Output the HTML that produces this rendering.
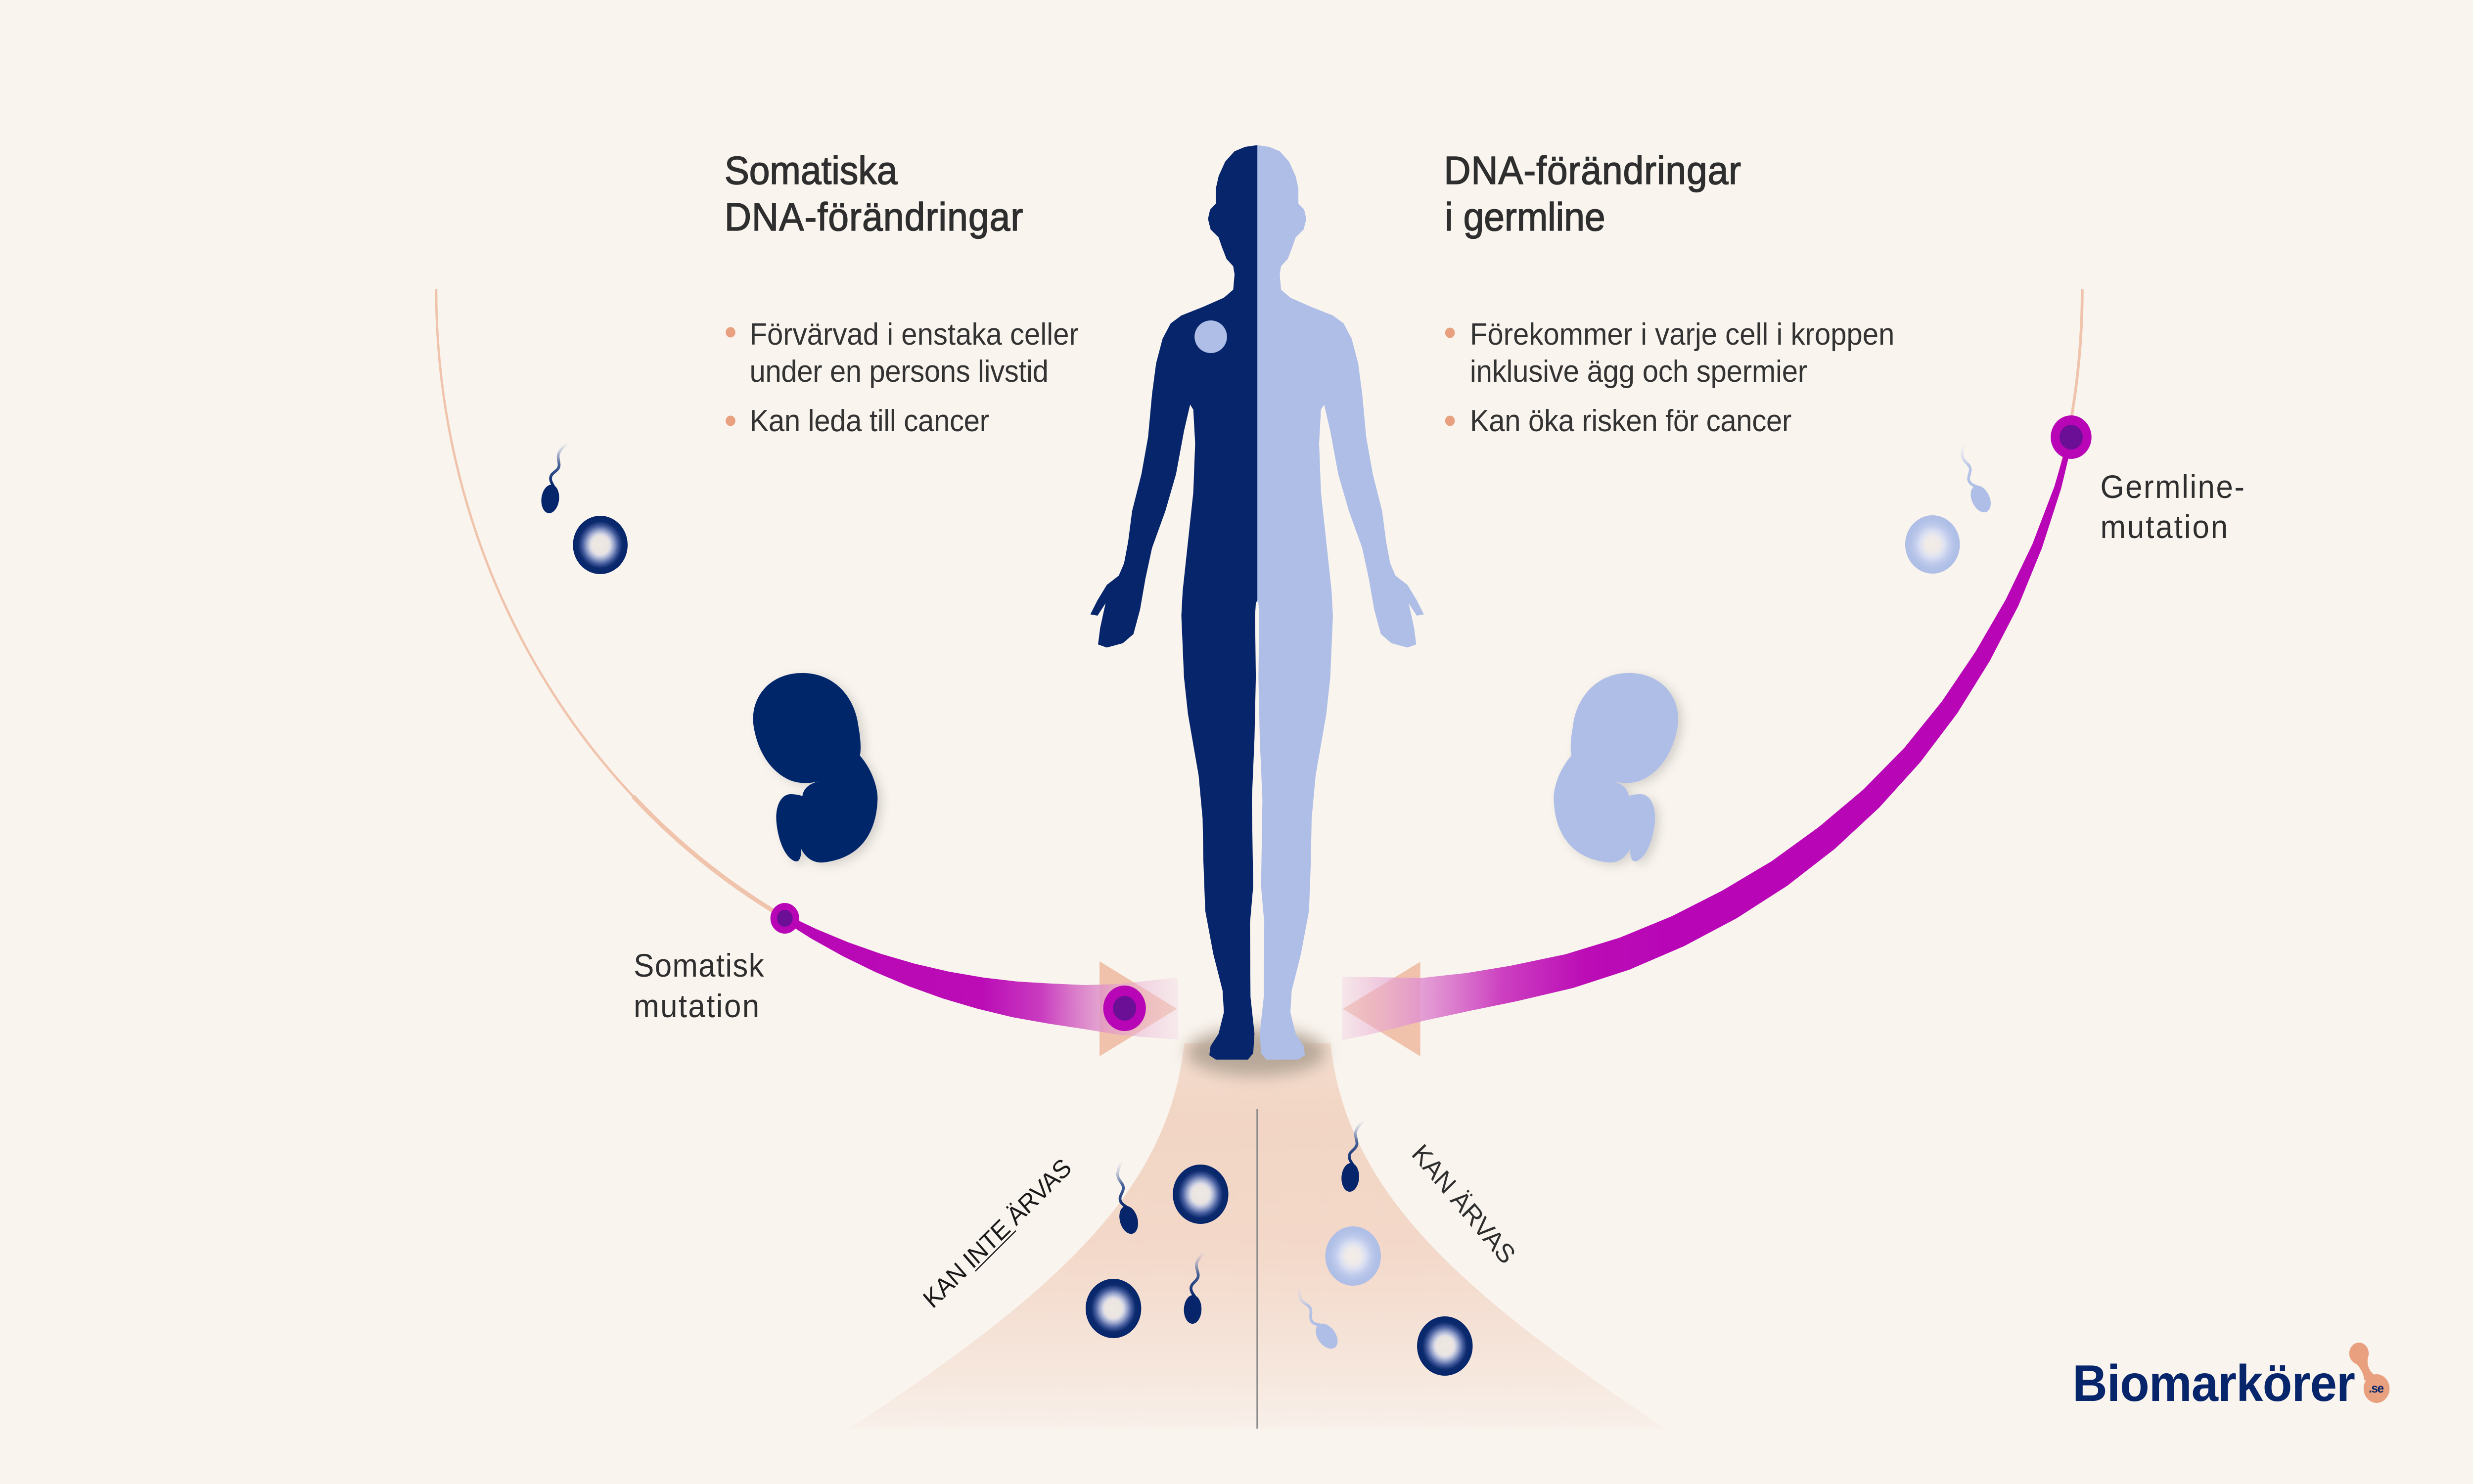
<!DOCTYPE html>
<html><head><meta charset="utf-8">
<style>
html,body{margin:0;padding:0;background:#f9f4ee;width:100%;height:100%;overflow:hidden;}
svg{display:block;position:fixed;left:0;top:0;width:100vw;height:100vh;}
text{font-family:"Liberation Sans",Arial,sans-serif;}
</style></head>
<body>
<svg viewBox="0 0 5335 3001" preserveAspectRatio="none" xmlns="http://www.w3.org/2000/svg">
<defs>
  <radialGradient id="eggN" cx="0.5" cy="0.5" r="0.5">
    <stop offset="0" stop-color="#efe9e4"/>
    <stop offset="0.3" stop-color="#ebe5e1"/>
    <stop offset="0.37" stop-color="#d9dae6"/>
    <stop offset="0.5" stop-color="#98a4cb"/>
    <stop offset="0.65" stop-color="#465d9e"/>
    <stop offset="0.8" stop-color="#0c2b6e"/>
    <stop offset="1" stop-color="#06256a"/>
  </radialGradient>
  <radialGradient id="eggL" cx="0.5" cy="0.5" r="0.5">
    <stop offset="0" stop-color="#f4ede8"/>
    <stop offset="0.28" stop-color="#efeae9"/>
    <stop offset="0.45" stop-color="#dbe0f2"/>
    <stop offset="0.65" stop-color="#c0cbec"/>
    <stop offset="0.85" stop-color="#b0c0e7"/>
    <stop offset="1" stop-color="#aebee6"/>
  </radialGradient>
  <linearGradient id="funnelG" x1="0" y1="2110" x2="0" y2="2892" gradientUnits="userSpaceOnUse">
    <stop offset="0" stop-color="#f4ddcf"/>
    <stop offset="0.2" stop-color="#f2d5c4"/>
    <stop offset="0.55" stop-color="#f3d9ca"/>
    <stop offset="0.85" stop-color="#f6e7dd"/>
    <stop offset="1" stop-color="#f8f0ea"/>
  </linearGradient>
  <linearGradient id="bandL" x1="1690" y1="0" x2="2545" y2="0" gradientUnits="userSpaceOnUse">
    <stop offset="0" stop-color="#b806b6"/>
    <stop offset="0.5" stop-color="#bb0cb6"/>
    <stop offset="0.65" stop-color="#c93cc0"/>
    <stop offset="0.8" stop-color="#de90c8" stop-opacity="0.8"/>
    <stop offset="0.9" stop-color="#eab0d4" stop-opacity="0.5"/>
    <stop offset="1" stop-color="#f3dce8" stop-opacity="0.4"/>
  </linearGradient>
  <linearGradient id="bandR" x1="2880" y1="0" x2="3600" y2="0" gradientUnits="userSpaceOnUse">
    <stop offset="0" stop-color="#f3dce8" stop-opacity="0.4"/>
    <stop offset="0.1" stop-color="#eab0d4" stop-opacity="0.5"/>
    <stop offset="0.25" stop-color="#e08ed0" stop-opacity="0.8"/>
    <stop offset="0.5" stop-color="#cc40c0"/>
    <stop offset="0.75" stop-color="#bb0cb6"/>
    <stop offset="1" stop-color="#b806b6"/>
  </linearGradient>
  <linearGradient id="tailN" x1="0" y1="1" x2="0" y2="0">
    <stop offset="0" stop-color="#06256a"/>
    <stop offset="0.5" stop-color="#2a4a8c" stop-opacity="0.85"/>
    <stop offset="1" stop-color="#9aaad0" stop-opacity="0"/>
  </linearGradient>
  <linearGradient id="tailL" x1="0" y1="1" x2="0" y2="0">
    <stop offset="0" stop-color="#aebee6"/>
    <stop offset="0.5" stop-color="#aebee6" stop-opacity="0.85"/>
    <stop offset="1" stop-color="#c8d2ee" stop-opacity="0"/>
  </linearGradient>
  <filter id="emb" x="-30%" y="-30%" width="160%" height="160%">
    <feDropShadow dx="10" dy="6" stdDeviation="10" flood-color="#000" flood-opacity="0.14"/>
  </filter>
  <filter id="blur" x="-50%" y="-100%" width="200%" height="300%">
    <feGaussianBlur stdDeviation="16"/>
  </filter>
  <g id="spermN">
    <path d="M3,-27 C-4,-35 -8,-42 -3,-50 C3,-58 12,-62 9,-73 C6,-84 2,-90 8,-100 C12,-108 18,-113 22,-118" fill="none" stroke="url(#tailN)" stroke-width="6" stroke-linecap="round"/>
    <ellipse cx="0" cy="0" rx="19" ry="29" fill="#06256a"/>
  </g>
  <g id="spermL">
    <path d="M3,-27 C-4,-35 -8,-42 -3,-50 C3,-58 12,-62 9,-73 C6,-84 2,-90 8,-100 C12,-108 18,-113 22,-118" fill="none" stroke="url(#tailL)" stroke-width="6" stroke-linecap="round"/>
    <ellipse cx="0" cy="0" rx="19" ry="29" fill="#aebee6"/>
  </g>
  <path id="half" d="M2712.5,293.5 L2686,297 L2663,306 L2643,327 L2629,356 L2623,381 L2623,411.7 L2610.5,424 L2606,442.8 L2611.6,464 L2628.8,480 L2635.7,498.7 L2646,523.6 L2660.4,538.5 L2663.3,554.7 L2660.4,585.8 L2640.3,602 L2594.4,621 L2548.5,638 L2525.5,654 L2508,685 L2494,735 L2485.3,797 L2476.7,884 L2462.4,959 L2442.3,1033.5 L2433.7,1095.6 L2425,1139 L2413.6,1164 L2387.8,1182.7 L2367.7,1213.8 L2352.2,1242.4 L2367.7,1245 L2385,1220 L2373.4,1269.7 L2368.8,1303.3 L2387.8,1309.5 L2422.2,1300.8 L2445.2,1282.2 L2459.5,1232.4 L2471,1170.3 L2485.3,1108 L2514,1033.5 L2537,958.9 L2554.2,871.8 L2567.4,818.3 L2574.3,828.3 L2578.3,896.7 L2574.3,996 L2562.8,1095.6 L2551.4,1195 L2548.5,1245 L2554.2,1369.2 L2562.8,1443.9 L2585.8,1568.2 L2594.4,1655.3 L2596.1,1742.3 L2600.1,1841.8 L2617.4,1928.9 L2637.5,2003.5 L2640.3,2047 L2628.8,2090.5 L2611.6,2115.4 L2608.8,2134 L2623,2142.8 L2651.8,2142.8 L2692,2142.8 L2703.5,2130.3 L2706.3,2090.5 L2697.7,2016 L2696.6,1866.7 L2703.5,1792 L2700.6,1618 L2706.3,1493.6 L2709.2,1369.2 L2707.5,1245 L2709.2,1220 L2712.5,1213.8 Z"/>
  <path id="embryo" d="M1731,1361 C1800,1361 1845,1410 1852,1470 C1858,1500 1857,1520 1855,1528 C1885,1560 1895,1600 1893,1620 C1890,1680 1860,1735 1777,1744 C1755,1746 1738,1735 1728,1716 C1729,1730 1726,1742 1718,1742 C1700,1740 1680,1710 1675,1663 C1672,1630 1685,1606 1706,1606 C1716,1606 1726,1608 1731,1610 C1733,1595 1745,1585 1766,1580 C1745,1585 1725,1585 1705,1578 C1660,1560 1632,1515 1625,1463 C1620,1410 1660,1361 1731,1361 Z"/>
</defs>

<rect width="5335" height="3001" fill="#f9f4ee"/>

<!-- funnel -->
<path d="M2555,2110 C2520,2400 2300,2600 1830,2890 L3595,2890 C3125,2600 2905,2400 2870,2110 Z" fill="url(#funnelG)"/>
<line x1="2712" y1="2243" x2="2712" y2="2889" stroke="#8c8c8c" stroke-width="3"/>

<!-- peach arcs -->
<path d="M941,585 A1450,1450 0 0 0 1693.4,1856.2" fill="none" stroke="#f0c4ac" stroke-width="5"/>
<path d="M1365.7,1610.3 A1450,1450 0 0 0 1693.4,1856.2" fill="none" stroke="#f0c4ac" stroke-width="9"/>
<path d="M4492,585 A1450,1450 0 0 1 3974.1,1695.8" fill="none" stroke="#f0c4ac" stroke-width="6"/>

<!-- embryos -->
<g filter="url(#emb)"><use href="#embryo" fill="#06256a"/></g>
<g filter="url(#emb)"><g transform="translate(5245,0) scale(-1,1)"><use href="#embryo" fill="#aebee6"/></g></g>

<!-- top eggs & sperm -->
<circle cx="1295" cy="1102" r="59" fill="url(#eggN)"/>
<use href="#spermN" transform="translate(1187,1009) rotate(8)"/>
<circle cx="4169" cy="1101" r="59" fill="url(#eggL)"/>
<use href="#spermL" transform="translate(4273,1009) rotate(-28)"/>

<!-- bottom eggs & sperm -->
<circle cx="2590" cy="2415" r="60" fill="url(#eggN)"/>
<circle cx="2402" cy="2646" r="60" fill="url(#eggN)"/>
<circle cx="2919" cy="2540" r="60" fill="url(#eggL)"/>
<circle cx="3117" cy="2722" r="60" fill="url(#eggN)"/>
<use href="#spermN" transform="translate(2435,2467) rotate(-18)"/>
<use href="#spermN" transform="translate(2573,2648) rotate(2)"/>
<use href="#spermN" transform="translate(2913,2381) rotate(4)"/>
<use href="#spermL" transform="translate(2862,2702) rotate(-40)"/>

<!-- arrowhead triangles -->
<polygon points="2372,1944 2372,2136 2539,2040" fill="#f0c2ab"/>
<polygon points="3064,1945 3064,2136 2897,2040" fill="#f0c2ab"/>

<!-- left band -->
<polygon fill="url(#bandL)" points="1696.8,1850.1 1760.1,1878.4 1830.4,1905.7 1901.7,1929.3 1974,1949 2047,1964.9 2120.5,1976.8 2194.2,1984.9 2268.1,1989 2342,1992 2415,1990 2488,1982 2540,1977 2542,2102 2495,2099 2417,2093 2338.8,2081 2261,2069.9 2184.1,2057 2108.2,2039.8 2033.5,2019 1960.1,1994.3 1888.5,1965.8 1818.5,1933.7 1750.5,1898.2 1690,1862.4"/>

<!-- right band -->
<polygon fill="url(#bandR)" points="4463.1,882.9 4432,983.5 4384.5,1100.4 4327.3,1211.9 4261.8,1317.8 4189.2,1418.5 4108.4,1512.1 4019.4,1597 3923,1672.9 3822.1,1741.5 3715.9,1800.7 3606.5,1852.9 3493.6,1896.4 3377.3,1929.8 3258.6,1953 3163,1967.7 3066.3,1977.8 2969.1,1976 2895,1975 2895,2104 2963.8,2090 3067.8,2065 3169.7,2044.4 3270,2025.1 3394.2,1997.8 3515.7,1960.7 3633.3,1913.2 3746.9,1856.7 3855.6,1791.2 3958.3,1716.5 4054.2,1633 4142.4,1541.6 4222.3,1442.6 4292.7,1336.4 4354.2,1225.1 4405.1,1108.3 4446.5,987.7 4472.9,885"/>

<!-- mutation dots -->
<circle cx="1693" cy="1857" r="31" fill="#b806b6"/>
<circle cx="1693" cy="1857" r="17" fill="#6a0f96"/>
<circle cx="2426" cy="2039" r="46" fill="#b806b6"/>
<circle cx="2426" cy="2039" r="25" fill="#6a0f96"/>
<circle cx="4468" cy="884" r="44" fill="#b806b6"/>
<circle cx="4468" cy="884" r="25" fill="#6a0f96"/>

<!-- feet shadow -->
<ellipse cx="2710" cy="2128" rx="150" ry="48" fill="#b8a899" filter="url(#blur)"/>

<!-- human figure -->
<use href="#half" fill="#aebee6" transform="translate(5424,0) scale(-1,1)"/>
<use href="#half" fill="#06256a"/>
<ellipse cx="2612" cy="681" rx="35" ry="33" fill="#aebee6"/>

<!-- titles -->
<g fill="#2e2e2e" stroke="#2e2e2e" stroke-width="1.6">
  <text x="1563" y="372" font-size="80" textLength="373">Somatiska</text>
  <text x="1563" y="466" font-size="80" textLength="644">DNA-förändringar</text>
  <text x="3115" y="372" font-size="80" textLength="641">DNA-förändringar</text>
  <text x="3117" y="466" font-size="80" textLength="346">i germline</text>
</g>

<!-- bullets -->
<g fill="#e9a07e">
  <circle cx="1576" cy="672" r="10.5"/>
  <circle cx="1576" cy="851" r="10.5"/>
  <circle cx="3128" cy="673" r="10.5"/>
  <circle cx="3128" cy="851" r="10.5"/>
</g>
<g fill="#333333" font-size="62">
  <text x="1617" y="697" textLength="710">Förvärvad i enstaka celler</text>
  <text x="1617" y="772" textLength="645">under en persons livstid</text>
  <text x="1617" y="872" textLength="517">Kan leda till cancer</text>
  <text x="3171" y="697" textLength="916">Förekommer i varje cell i kroppen</text>
  <text x="3171" y="772" textLength="728">inklusive ägg och spermier</text>
  <text x="3171" y="872" textLength="694">Kan öka risken för cancer</text>
</g>

<!-- mutation labels -->
<g fill="#2e2e2e" font-size="66">
  <text x="1367" y="1975" textLength="281">Somatisk</text>
  <text x="1367" y="2057" textLength="271">mutation</text>
  <text x="4531" y="1007" textLength="311">Germline-</text>
  <text x="4531" y="1088" textLength="275">mutation</text>
</g>

<!-- inheritance labels -->
<g transform="translate(2012,2648) rotate(-43)">
  <text x="0" y="0" font-size="52" fill="#1a1a1a" textLength="414">KAN INTE ÄRVAS</text>
  <line x1="120" y1="6" x2="240" y2="6" stroke="#1a1a1a" stroke-width="2.5"/>
</g>
<g transform="translate(3043,2335) rotate(48)">
  <text x="0" y="0" font-size="54" fill="#2e2e2e" textLength="302">KAN ÄRVAS</text>
</g>

<!-- logo -->
<g fill="#e9a07e">
  <ellipse cx="5089" cy="2737" rx="21" ry="22"/>
  <ellipse cx="5127" cy="2808" rx="28" ry="29"/>
  <path d="M5071,2748 C5088,2760 5098,2772 5101,2792 L5126,2783 C5112,2775 5104,2760 5109,2742 Z"/>
</g>
<text x="4471" y="2833" font-size="104" font-weight="bold" fill="#06256a" textLength="610">Biomarkörer</text>
<text x="5110" y="2816" font-size="26" font-weight="bold" fill="#06256a" textLength="33">.se</text>
</svg>
</body></html>
